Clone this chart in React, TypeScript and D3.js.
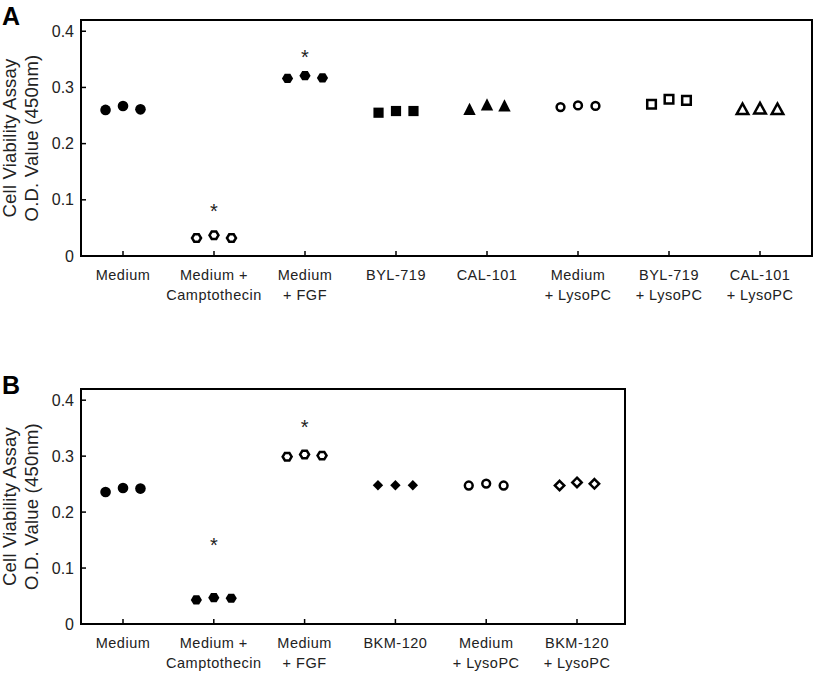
import React from "react";
import * as d3 from "d3";

// ---------- Data ----------
const yTicks = [0, 0.1, 0.2, 0.3, 0.4];
const yTickLabels = ["0", "0.1", "0.2", "0.3", "0.4"];

const categoriesA = [
  ["Medium", ""],
  ["Medium +", "Camptothecin"],
  ["Medium", "+ FGF"],
  ["BYL-719", ""],
  ["CAL-101", ""],
  ["Medium", "+ LysoPC"],
  ["BYL-719", "+ LysoPC"],
  ["CAL-101", "+ LysoPC"],
];
const valuesA = [
  [0.260, 0.267, 0.261],
  [0.032, 0.037, 0.032],
  [0.316, 0.321, 0.317],
  [0.255, 0.258, 0.258],
  [0.262, 0.270, 0.268],
  [0.265, 0.268, 0.267],
  [0.270, 0.279, 0.277],
  [0.262, 0.263, 0.262],
];
const shapesA = ["circle", "hexagon", "hexagon", "square", "triangle", "circle", "square", "triangle"];
const filledA = [true, false, true, true, true, false, false, false];
const starsA = [
  { index: 1, value: 0.088 },
  { index: 2, value: 0.362 },
];

const categoriesB = [
  ["Medium", ""],
  ["Medium +", "Camptothecin"],
  ["Medium", "+ FGF"],
  ["BKM-120", ""],
  ["Medium", "+ LysoPC"],
  ["BKM-120", "+ LysoPC"],
];
const valuesB = [
  [0.236, 0.243, 0.242],
  [0.043, 0.047, 0.046],
  [0.299, 0.303, 0.301],
  [0.248, 0.248, 0.248],
  [0.2475, 0.251, 0.2475],
  [0.2475, 0.253, 0.2505],
];
const shapesB = ["circle", "hexagon", "hexagon", "diamond", "circle", "diamond"];
const filledB = [true, true, false, true, false, false];
const starsB = [
  { index: 1, value: 0.149 },
  { index: 2, value: 0.36 },
];

const FONT = "'Liberation Sans', Arial, Helvetica, sans-serif";

function polygonPath(pts: [number, number][]) {
  const p = d3.path();
  pts.forEach((pt, i) => (i === 0 ? p.moveTo(pt[0], pt[1]) : p.lineTo(pt[0], pt[1])));
  p.closePath();
  return p.toString();
}

function Marker({ shape, filled, x, y }: { shape: string; filled: boolean; x: number; y: number }) {
  const sw = 2.5;
  const common = filled
    ? { fill: "#000", stroke: "none" }
    : { fill: "#fff", stroke: "#000", strokeWidth: sw };
  let d = "";
  if (shape === "circle") {
    const r = filled ? 5.3 : 3.9;
    return <circle cx={x} cy={y} r={r} {...common} />;
  } else if (shape === "hexagon") {
    const r = filled ? 5.6 : 4.5;
    const pts: [number, number][] = d3.range(6).map((i) => {
      const a = (Math.PI / 3) * i;
      return [x + r * Math.cos(a), y + r * 0.95 * Math.sin(a)];
    });
    d = polygonPath(pts);
  } else if (shape === "square") {
    const h = filled ? 5.1 : 4.3;
    d = polygonPath([
      [x - h, y - h],
      [x + h, y - h],
      [x + h, y + h],
      [x - h, y + h],
    ]);
  } else if (shape === "triangle") {
    const w = filled ? 6.2 : 5.8;
    const hh = filled ? 6.1 : 5.3;
    d = polygonPath([
      [x, y - hh],
      [x + w, y + hh],
      [x - w, y + hh],
    ]);
  } else if (shape === "diamond") {
    const r = filled ? 5.2 : 4.7;
    d = polygonPath([
      [x, y - r],
      [x + r, y],
      [x, y + r],
      [x - r, y],
    ]);
  }
  return <path d={d} {...common} strokeLinejoin="miter" />;
}

type PanelProps = {
  letter: string;
  top: number;
  bottom: number;
  left: number;
  right: number;
  firstX: number;
  lastX: number;
  categories: string[][];
  values: number[][];
  shapes: string[];
  filled: boolean[];
  stars: { index: number; value: number }[];
};

function Panel(p: PanelProps) {
  const y = d3.scaleLinear().domain([0, 0.42]).range([p.bottom, p.top]);
  const x = d3
    .scalePoint<number>()
    .domain(d3.range(p.categories.length))
    .range([p.firstX, p.lastX]);
  const step = x.step();
  const jitter = d3.scalePoint<number>().domain([0, 1, 2]).range([-step * 0.192, step * 0.192]);
  const midY = (p.top + p.bottom) / 2;
  const tickLen = 5;

  return (
    <g>
      <text x={2} y={p.top + 5} fontFamily={FONT} fontWeight="bold" fontSize={25}>
        {p.letter}
      </text>
      {/* y-axis title */}
      <g transform={`translate(16,${midY}) rotate(-90)`}>
        <text textAnchor="middle" fontFamily={FONT} fontSize={18.5} letterSpacing={0.2} fill="#222">
          Cell Viability Assay
        </text>
      </g>
      <g transform={`translate(38,${midY}) rotate(-90)`}>
        <text textAnchor="middle" fontFamily={FONT} fontSize={18.5} letterSpacing={0.2} fill="#222">
          O.D. Value (450nm)
        </text>
      </g>
      {/* y ticks */}
      {yTicks.map((t, i) => (
        <g key={i}>
          <line x1={p.left} x2={p.left + tickLen} y1={y(t)} y2={y(t)} stroke="#000" strokeWidth={1.5} />
          <text
            x={p.left - 7}
            y={y(t) + 5.5}
            textAnchor="end"
            fontFamily={FONT}
            fontSize={16}
            fill="#222"
          >
            {yTickLabels[i]}
          </text>
        </g>
      ))}
      {/* x ticks and labels */}
      {p.categories.map((c, i) => (
        <g key={i}>
          <line x1={x(i)} x2={x(i)} y1={p.bottom} y2={p.bottom - tickLen} stroke="#000" strokeWidth={1.5} />
          <text x={x(i)} y={p.bottom + 24} textAnchor="middle" fontFamily={FONT} fontSize={14.5} letterSpacing={0.5} fill="#222">
            {c[0]}
          </text>
          {c[1] && (
            <text x={x(i)} y={p.bottom + 44} textAnchor="middle" fontFamily={FONT} fontSize={14.5} letterSpacing={0.5} fill="#222">
              {c[1]}
            </text>
          )}
        </g>
      ))}
      {/* box */}
      <rect
        x={p.left}
        y={p.top}
        width={p.right - p.left}
        height={p.bottom - p.top}
        fill="none"
        stroke="#000"
        strokeWidth={2}
      />
      {/* points */}
      {p.values.map((vals, i) =>
        vals.map((v, j) => (
          <Marker key={`${i}-${j}`} shape={p.shapes[i]} filled={p.filled[i]} x={(x(i) as number) + (jitter(j) as number)} y={y(v)} />
        ))
      )}
      {/* significance stars */}
      {p.stars.map((s, i) => (
        <text key={i} x={x(s.index)} y={y(s.value) + 11} textAnchor="middle" fontFamily={FONT} fontSize={20} fill="#222">
          *
        </text>
      ))}
    </g>
  );
}

export default function App() {
  return (
    <svg
      width={815}
      height={675}
      style={{ position: "absolute", left: 0, top: 0, background: "#fff" }}
    >
      <rect width={815} height={675} fill="#fff" />
      <Panel
        letter="A"
        top={20}
        bottom={256}
        left={81}
        right={812}
        firstX={123}
        lastX={760}
        categories={categoriesA}
        values={valuesA}
        shapes={shapesA}
        filled={filledA}
        stars={starsA}
      />
      <Panel
        letter="B"
        top={389}
        bottom={624}
        left={81}
        right={625}
        firstX={123}
        lastX={577}
        categories={categoriesB}
        values={valuesB}
        shapes={shapesB}
        filled={filledB}
        stars={starsB}
      />
    </svg>
  );
}
